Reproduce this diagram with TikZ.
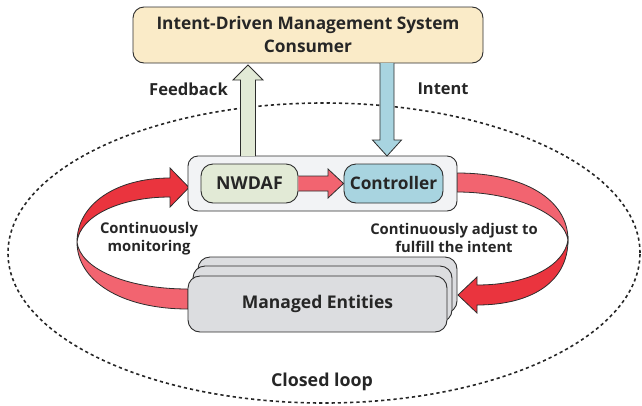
\documentclass[tikz,border=0pt]{standalone}
\usepackage{fontspec}
\setmainfont{Open Sans}
\usetikzlibrary{shapes.geometric}
\definecolor{txt}{RGB}{38,38,38}
\definecolor{edge}{RGB}{45,45,45}
\definecolor{topfill}{RGB}{250,235,200}
\definecolor{nwfill}{RGB}{226,234,214}
\definecolor{ctfill}{RGB}{168,212,224}
\definecolor{cofill}{RGB}{242,243,245}
\definecolor{mefill}{RGB}{220,221,224}
\definecolor{redA}{RGB}{234,52,62}
\definecolor{pinkA}{RGB}{242,100,112}
\begin{document}
\begin{tikzpicture}[x=1pt,y=-1pt,
  box/.style={draw=edge,line width=0.9pt,rounded corners=11pt,inner sep=0pt,text=txt,font=\bfseries},
  lbl/.style={text=txt,font=\bfseries,align=center,inner sep=0pt},
  blk/.style={draw=edge,line width=0.8pt,line join=miter}]
\useasboundingbox (0,0) rectangle (642,405);
% closed loop ellipse
\node[draw=txt,line width=1.6pt,dash pattern=on 3.2pt off 3pt,ellipse,minimum width=632pt,minimum height=300pt,inner sep=0pt] (loop) at (324,253) {};
% top box
\node[box,fill=topfill,minimum width=350pt,minimum height=56pt,align=center,font=\bfseries\fontsize{17.3}{23}\selectfont] (top) at (308,35) {Intent-Driven Management System\\Consumer};
% ribbons (left)
\fill[pinkA,draw=edge,line width=0.8pt] (77,242) .. controls (77,280) and (120,309) .. (188,309) -- (188,289) .. controls (125,289) and (80,268) .. (77,242) -- cycle;
\fill[redA,draw=edge,line width=0.8pt] (77,242) .. controls (77,205) and (115,178) .. (170,178) -- (170,168) -- (189,187.5) -- (170,207) -- (170,197) .. controls (120,197) and (80,216) .. (77,242) -- cycle;
% ribbons (right)
\fill[pinkA,draw=edge,line width=0.8pt] (457,173) .. controls (525,173) and (568,200) .. (568,240) .. controls (564,214) and (515,192) .. (457,192) -- cycle;
\fill[redA,draw=edge,line width=0.8pt] (568,240) .. controls (568,283) and (530,305) .. (477,305) -- (477,313) -- (458,295) -- (477,277) -- (477,285) .. controls (528,285) and (564,266) .. (568,240) -- cycle;
% container
\node[box,fill=cofill,rounded corners=10pt,minimum width=269pt,minimum height=55pt] (cont) at (322.5,183.5) {};
\node[box,fill=nwfill,rounded corners=12pt,minimum width=97pt,minimum height=39pt,font=\bfseries\fontsize{17.8}{20}\selectfont] (nw) at (249.5,183.5) {NWDAF};
\node[box,fill=ctfill,rounded corners=12pt,minimum width=99pt,minimum height=39pt,font=\bfseries\fontsize{17.3}{20}\selectfont] (ct) at (393.5,183.5) {Controller};
% NWDAF -> Controller
\draw[blk,fill=pinkA] (nw.east |- 0,176) -- (328,176) -- (328,169) -- (ct.west) -- (328,198) -- (328,191) -- (nw.east |- 0,191);
% feedback arrow
\draw[blk,fill=nwfill] (240.5,156) -- (240.5,80) -- (233,80) -- (248,65) -- (263,80) -- (255.5,80) -- (255.5,156);
% intent arrow
\draw[blk,fill=ctfill] (380,63) -- (380,140) -- (372.5,140) -- (387,156) -- (401.5,140) -- (394,140) -- (394,63);
% managed entities stack
\node[box,fill=mefill,rounded corners=12pt,minimum width=259pt,minimum height=56pt] (me3) at (327.5,285) {};
\node[box,fill=mefill,rounded corners=12pt,minimum width=259pt,minimum height=56pt] (me2) at (322.5,294) {};
\node[box,fill=mefill,rounded corners=12pt,minimum width=259pt,minimum height=56pt,font=\bfseries\fontsize{17.5}{20}\selectfont] (me) at (317.5,304) {Managed Entities};
% labels
\node[lbl,font=\bfseries\fontsize{16.6}{19}\selectfont] (fb) at (188.5,89) {Feedback};
\node[lbl,font=\bfseries\fontsize{16.4}{19}\selectfont] (in) at (443,89) {Intent};
\node[lbl,font=\bfseries\fontsize{14.8}{18}\selectfont] (mon) at (149,239) {Continuously\\monitoring};
\node[lbl,font=\bfseries\fontsize{14.8}{18}\selectfont] (adj) at (454,238) {Continuously adjust to\\fulfill the intent};
\node[lbl,font=\bfseries\fontsize{17.8}{20}\selectfont] (cl) at (322,382) {Closed loop};
\end{tikzpicture}
\end{document}
